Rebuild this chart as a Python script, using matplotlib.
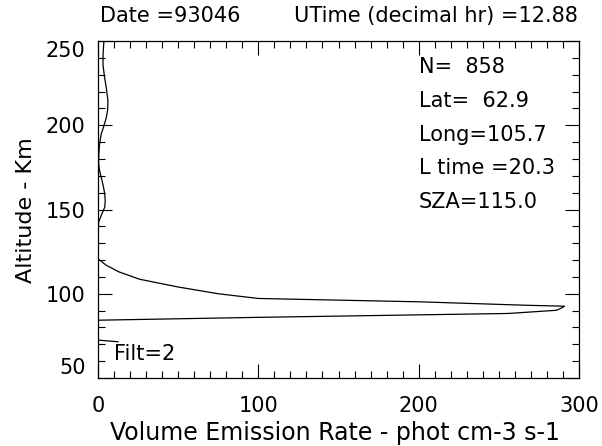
import matplotlib
matplotlib.use("Agg")
import matplotlib.pyplot as plt
from matplotlib.ticker import MultipleLocator

# volume emission rate profile (altitude in km, rate in phot cm-3 s-1)
altitude = [250, 243, 236, 229, 222, 214.5, 209, 204.6, 199, 194.8, 189, 183,
            177, 173, 169, 164, 159.3, 155, 151.4, 146.4, 142.5, 136, 120.8,
            117, 113, 108.6, 104, 100, 97.2, 95.2, 93.2, 92.6, 91.5, 90.2,
            88.3, 86, 84.3, 72.5, 71.5]
emission = [3.7, 3.2, 3.1, 4.0, 5.2, 6.2, 6.0, 5.2, 3.5, 2.0, 1.0, 0.5,
            0.4, 1.0, 2.0, 3.3, 4.2, 4.5, 4.2, 2.0, 0.4, 0.0, 0.0,
            5, 13, 26, 50, 75, 100, 201, 266, 291, 289, 286,
            256, 100, 0.0, 0.0, 12.5]

x_ticks = [0, 100, 200, 300]
y_ticks = [50, 100, 150, 200, 250]

date_str = "93046"
utime_str = "12.88"
info_lines = ["N=  858", "Lat=  62.9", "Long=105.7", "L time =20.3", "SZA=115.0"]
filt_str = "Filt=2"

W, H = 602, 446
FS = 15

plt.rcParams["font.family"] = "DejaVu Sans"
fig = plt.figure(figsize=(W / 100, H / 100), dpi=100)
# axes box: x 98..579 px, y 41..378 px
ax = fig.add_axes([98 / W, 1 - 378 / H, (579 - 98) / W, (378 - 41) / H])

ax.plot(emission, altitude, color="black", lw=0.9)

ax.set_xlim(0, 300)
ax.set_ylim(50, 250)
ax.set_xticks(x_ticks)
ax.set_yticks(y_ticks)
ax.xaxis.set_minor_locator(MultipleLocator(10))
ax.yaxis.set_minor_locator(MultipleLocator(10))
ax.tick_params(which="both", direction="in", top=True, right=True,
               labelsize=FS, width=0.8)
ax.tick_params(which="major", length=10)
ax.tick_params(which="minor", length=5)
ax.tick_params(axis="x", pad=13)
ax.tick_params(axis="y", pad=9)
for s in ax.spines.values():
    s.set_linewidth(0.9)

# end labels sit inside the axis range, like the original
ylabels = ax.get_yticklabels()
ylabels[0].set_va("bottom")
ylabels[-1].set_va("top")

ax.set_xlabel("Volume Emission Rate - phot cm-3 s-1", fontsize=17)
ax.xaxis.set_label_coords((335 - 98) / 481, (378 - 421) / 337)
ax.set_ylabel("Altitude - Km", fontsize=FS + 1)
ax.yaxis.set_label_coords((36 - 98) / 481, (378 - 210) / 337)

# header text above the plot
fig.text(100 / W, 1 - 16 / H, "Date =" + date_str, fontsize=FS,
         ha="left", va="center")
fig.text(578 / W, 1 - 16 / H, "UTime (decimal hr) =" + utime_str,
         fontsize=FS, ha="right", va="center")

# info block inside the axes
for i, line in enumerate(info_lines):
    fig.text(419 / W, 1 - (67 + 33.8 * i) / H, line, fontsize=FS,
             ha="left", va="center")

ax.text(10, 64, filt_str, fontsize=FS, ha="left", va="center")

fig.savefig("out.png", dpi=100)
